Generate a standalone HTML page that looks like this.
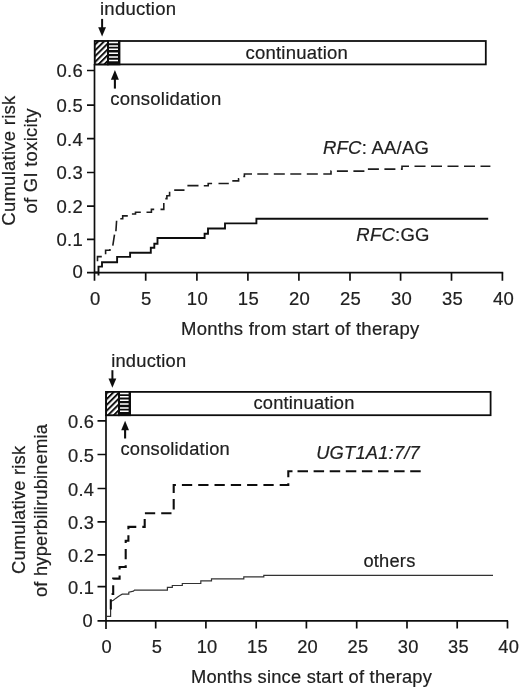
<!DOCTYPE html>
<html><head><meta charset="utf-8"><style>
html,body{margin:0;padding:0;background:#fff;}
svg{display:block;}

text{font-family:"Liberation Sans",sans-serif;fill:#202020;stroke:#202020;stroke-width:0.2px;}
</style></head><body>
<svg width="520" height="688" viewBox="0 0 520 688">
<defs>
<filter id="soft" x="0" y="0" width="520" height="688" filterUnits="userSpaceOnUse"><feGaussianBlur stdDeviation="0.35"/></filter>
<pattern id="diag" patternUnits="userSpaceOnUse" width="4.1" height="4.1" patternTransform="rotate(45) translate(-0.6 0)">
<rect width="4.1" height="4.1" fill="#fff"/><rect width="1.95" height="4.1" fill="#111"/>
</pattern>
<pattern id="diag2" patternUnits="userSpaceOnUse" width="4.1" height="4.1" patternTransform="rotate(45) translate(0 0)">
<rect width="4.1" height="4.1" fill="#fff"/><rect width="1.95" height="4.1" fill="#111"/>
</pattern>
</defs>
<g filter="url(#soft)">
<rect x="0" y="0" width="520" height="688" fill="#fff"/>

<!-- ============ TOP CHART ============ -->
<g font-size="18.5" letter-spacing="0.25">
<text x="100" y="0" transform="translate(0 15)">induction</text>
<text x="110.2" y="0" transform="translate(0 105)">consolidation</text>
<text x="322.9" y="0" transform="translate(0 153.9)"><tspan font-style="italic">RFC</tspan>: AA/AG</text>
<text x="356.3" y="0" transform="translate(0 240.6)"><tspan font-style="italic">RFC</tspan>:GG</text>
<g text-anchor="end">
<text x="83" y="0" transform="translate(0 77.4)">0.6</text>
<text x="83" y="0" transform="translate(0 112.0)">0.5</text>
<text x="83" y="0" transform="translate(0 145.6)">0.4</text>
<text x="83" y="0" transform="translate(0 179.4)">0.3</text>
<text x="83" y="0" transform="translate(0 213.1)">0.2</text>
<text x="83" y="0" transform="translate(0 246.3)">0.1</text>
<text x="83" y="0" transform="translate(0 278.3)">0</text>
</g>
<g text-anchor="middle">
<text x="95.3" y="0" transform="translate(0 304.7)">0</text>
<text x="146.3" y="0" transform="translate(0 304.7)">5</text>
<text x="197.4" y="0" transform="translate(0 304.7)">10</text>
<text x="248.4" y="0" transform="translate(0 304.7)">15</text>
<text x="299.5" y="0" transform="translate(0 304.7)">20</text>
<text x="350.5" y="0" transform="translate(0 304.7)">25</text>
<text x="401.5" y="0" transform="translate(0 304.7)">30</text>
<text x="452.6" y="0" transform="translate(0 304.7)">35</text>
<text x="503.6" y="0" transform="translate(0 304.7)">40</text>
</g>
<text x="181.1" y="0" transform="translate(0 335)">Months from start of therapy</text>
<g text-anchor="middle">
<text transform="translate(15.4 160.6) rotate(-90)">Cumulative risk</text>
<text transform="translate(36.6 160.9) rotate(-90)">of GI toxicity</text>
</g>
</g>
<!-- arrows -->
<path d="M102.1 18.9 V29" stroke="#111" stroke-width="2"/>
<path d="M98.2 27.3 L106 27.3 L102.1 36.6 Z" fill="#111"/>
<path d="M114.9 88.6 V78" stroke="#111" stroke-width="2.1"/>
<path d="M110.9 79.7 L118.9 79.7 L114.9 70.1 Z" fill="#111"/>
<!-- bar -->
<rect x="94.8" y="41" width="391" height="23.4" fill="#fff" stroke="#111" stroke-width="1.8"/>
<rect x="94.8" y="41" width="13.1" height="23.4" fill="url(#diag)" stroke="#111" stroke-width="1.8"/>
<rect x="107.9" y="41" width="11.6" height="23.4" fill="#111" stroke="#111" stroke-width="1.8"/>
<g stroke="#fff" stroke-width="1.5">
<path d="M109 42.6 H118 M109 46 H118 M109 49.3 H118 M109 53.3 H118 M109 57.1 H118 M109 60.6 H118"/>
</g>
<!-- axes -->
<g stroke="#111" stroke-width="1.7" fill="none">
<path d="M94.5 64 V280.7 M87 272.6 H503.2"/>
<path d="M87 70.5 H94.5 M87 105.1 H94.5 M87 138.7 H94.5 M87 172.5 H94.5 M87 206.2 H94.5 M87 239.4 H94.5"/>
<path d="M145.7 272.6 V280.7 M196.9 272.6 V280.7 M247.9 272.6 V280.7 M298.9 272.6 V280.7 M350 272.6 V280.7 M400.6 272.6 V280.7 M451.5 272.6 V280.7 M502.4 272.6 V280.7"/>
</g>
<!-- curves -->
<path d="M98.5 275.5 V272 M94.4 272.5 H98.5 V266.6 H102 V262.2 H117.1 V256.9 H130.1 V252.8 H150.8 V247.7 H154.3 V243.8 H157.5 V238 H204.6 V233.8 H208 V228.5 H225 V223.4 H256.4 V218.8 H488.2" fill="none" stroke="#111" stroke-width="1.9"/>
<g fill="none" stroke="#1c1c1c" stroke-width="1.6">
<path d="M97.5 261.2 V256.6 H101.8 M105.6 254.2 V250.2 H109.9 V249 M112.8 245.6 L114.5 234.6 M115.9 231.2 L116.6 220.8 M120.3 218.8 H122.7 V215.9 H127.8 M131.9 214 H135.5 V212.3 H140.8 M146.5 212.3 H151.4 V209.4 H154.2 M160.5 209.4 H163.8 V203.1 M165.3 198.6 H166.9 V195.7 H169.6 V192.5 H170.4 M174.2 190.1 H184.5 M187.4 185.6 H198.5 M203.8 185.7 H208.2 V183.5 H212.1 M218.5 183.5 H228.8 M232.3 180.9 H238.6 V178.8 H239.2 M243.3 176.5 H244.4 V174 H252"/>
<path d="M252 174 H331 V171.1 H366 V169.1 H402 V166.2 H490.4" stroke-dasharray="11 5.5" stroke-dashoffset="11.2"/>
</g>

<!-- ============ BOTTOM CHART ============ -->
<g font-size="18.3" letter-spacing="0.22">
<text x="111.2" y="0" transform="translate(0 366.5)">induction</text>
<text x="120.4" y="0" transform="translate(0 454.8)">consolidation</text>
<text x="316.2" y="0" transform="translate(0 458.8)" font-style="italic">UGT1A1:7/7</text>
<text x="363.4" y="0" transform="translate(0 567.1)">others</text>
<g text-anchor="end">
<text x="94.1" y="0" transform="translate(0 427.9)">0.6</text>
<text x="94.1" y="0" transform="translate(0 461.5)">0.5</text>
<text x="94.1" y="0" transform="translate(0 495.5)">0.4</text>
<text x="94.1" y="0" transform="translate(0 528.9)">0.3</text>
<text x="94.1" y="0" transform="translate(0 561.9)">0.2</text>
<text x="94.1" y="0" transform="translate(0 593.7)">0.1</text>
<text x="92.8" y="0" transform="translate(0 626.9)">0</text>
</g>
<g text-anchor="middle">
<text x="106.6" y="0" transform="translate(0 653)">0</text>
<text x="156.9" y="0" transform="translate(0 653)">5</text>
<text x="207.1" y="0" transform="translate(0 653)">10</text>
<text x="257.4" y="0" transform="translate(0 653)">15</text>
<text x="307.6" y="0" transform="translate(0 653)">20</text>
<text x="357.9" y="0" transform="translate(0 653)">25</text>
<text x="408.2" y="0" transform="translate(0 653)">30</text>
<text x="458.4" y="0" transform="translate(0 653)">35</text>
<text x="508.7" y="0" transform="translate(0 653)">40</text>
</g>
<text x="191" y="0" transform="translate(0 682.8)">Months since start of therapy</text>
<g text-anchor="middle">
<text transform="translate(24.5 509.8) rotate(-90)">Cumulative risk</text>
<text transform="translate(47.1 510.4) rotate(-90)">of hyperbilirubinemia</text>
</g>
</g>
<!-- arrows -->
<path d="M112.4 370.2 V380" stroke="#111" stroke-width="2"/>
<path d="M108.5 378.6 L116.3 378.6 L112.4 387.8 Z" fill="#111"/>
<path d="M125.1 438.5 V429" stroke="#111" stroke-width="2.1"/>
<path d="M121.2 430.2 L129 430.2 L125.1 420.7 Z" fill="#111"/>
<!-- bar -->
<rect x="106.1" y="391.9" width="384.5" height="23.3" fill="#fff" stroke="#111" stroke-width="1.8"/>
<rect x="106.1" y="391.9" width="12.8" height="23.3" fill="url(#diag2)" stroke="#111" stroke-width="1.8"/>
<rect x="118.9" y="391.9" width="11.2" height="23.3" fill="#111" stroke="#111" stroke-width="1.8"/>
<g stroke="#fff" stroke-width="1.5">
<path d="M120 393.5 H128.6 M120 396.8 H128.6 M120 400.2 H128.6 M120 404 H128.6 M120 407.9 H128.6 M120 411.3 H128.6"/>
</g>
<!-- axes -->
<g stroke="#111" stroke-width="1.7" fill="none">
<path d="M106 415 V629 M97.5 620.8 H508"/>
<path d="M97.5 420.9 H106 M97.5 454.5 H106 M97.5 488.5 H106 M97.5 521.9 H106 M97.5 554.9 H106 M97.5 586.7 H106"/>
<path d="M155.7 620.8 V628.5 M205.9 620.8 V628.5 M256.2 620.8 V628.5 M306.4 620.8 V628.5 M356.7 620.8 V628.5 M407 620.8 V628.5 M457.2 620.8 V628.5 M507.5 620.8 V628.5"/>
</g>
<!-- curves -->
<path d="M105.8 616.4 H110.6 V601.5 L113.4 600.3 L115.7 598.4 L118 596.8 L120.3 595.3 L122.2 594.2 H128.8 V592.2 L133.4 591.1 L134.5 590.1 H167.4 V587.3 H172.3 V585.5 H182.3 V583.5 H200.8 V580.8 H211.5 V578.8 H243.8 V576.8 H263.8 V575.3 H493" fill="none" stroke="#333" stroke-width="1.2"/>
<g fill="none" stroke="#111" stroke-width="2.1">
<path d="M110.8 609.5 V594 H113.2 V578.6 H119.6 V567 H125.7 V540.8 H128.4 V526.9 H144.7 V513.2 H173.7 V485 H288.3 V471.2 H292.5" stroke-dasharray="10.3 6"/>
<path d="M297.5 471.2 H422" stroke-dasharray="10.5 5.6"/>
</g>
<text x="245.4" y="0" transform="translate(0 58.5)" font-size="18.5" letter-spacing="0.25">continuation</text>
<text x="253.4" y="0" transform="translate(0 409.2)" font-size="18.3" letter-spacing="0.22">continuation</text>
</g>
</svg>
</body></html>
